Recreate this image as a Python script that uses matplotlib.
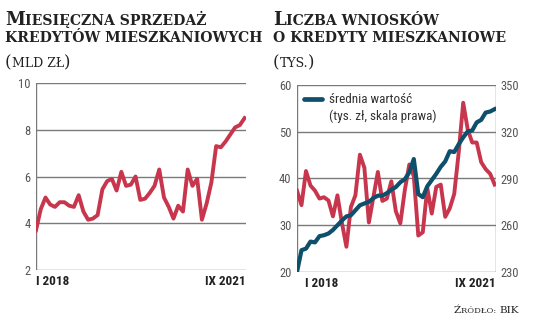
import matplotlib
matplotlib.use('Agg')
import matplotlib.pyplot as plt
from matplotlib import font_manager as fm

# ---------------- data ----------------
months = list(range(45))  # I 2018 .. IX 2021
sales = [3.7, 4.6, 5.1, 4.8, 4.7, 4.9, 4.9, 4.75, 4.7, 5.2,
         4.5, 4.15, 4.2, 4.35, 5.45, 5.8, 5.9, 5.4, 6.2, 5.6,
         5.65, 6.0, 5.0, 5.05, 5.3, 5.6, 6.3, 5.1, 4.7, 4.2,
         4.75, 4.5, 6.3, 5.6, 5.9, 4.15, 4.85, 5.75, 7.3, 7.25,
         7.5, 7.8, 8.1, 8.2, 8.5]
applications = [37.4, 34.3, 41.6, 38.5, 37.4, 35.7, 36.0, 35.3, 31.9, 36.4,
                30.5, 25.4, 33.9, 36.4, 45.1, 42.3, 30.6, 36.0, 41.4, 35.2,
                35.7, 39.4, 33.0, 30.4, 37.5, 43.0, 40.5, 27.8, 28.5, 38.0,
                32.5, 38.2, 38.7, 31.8, 33.6, 36.7, 45.6, 56.2, 50.5, 47.7,
                47.7, 43.5, 42.0, 41.0, 38.7]
avg_value = [230, 244, 245, 249.5, 249, 253, 253.6, 254.7, 257, 260,
             263, 265.7, 266.4, 269.6, 272.8, 274, 275, 277.4, 279, 279,
             280.6, 282.8, 284.5, 287.6, 289.5, 294, 302.5, 280, 278, 285,
             289, 293, 297.5, 301, 307.5, 307, 312, 316.4, 320.2, 320.8,
             326, 327.6, 332.3, 333, 334.5]
left_ticks = [2, 4, 6, 8, 10]
apps_ticks = [20, 30, 40, 50, 60]
value_ticks = [230, 260, 290, 320, 350]
x_labels = ["I 2018", "IX 2021"]
legend_lines = ["średnia wartość", "(tys. zł, skala prawa)"]

RED = "#c8364e"
BLUE = "#0e4f6b"
GRID = "#7a7a7a"
TICK = "#555555"
DARK = "#222222"
SERIF = "DejaVu Serif"

installed = {f.name for f in fm.fontManager.ttflist}
cands = ["Liberation Sans Narrow", "DejaVu Sans Condensed", "Roboto Condensed",
         "Roboto", "DejaVu Sans"]
NUM_FONT = [c for c in cands if c in installed] + ["DejaVu Sans"]
NUM_STRETCH = "condensed"

W, H = 536, 327
fig = plt.figure(figsize=(W / 100, H / 100), dpi=100)
fig.patch.set_facecolor("white")


def box(l, t, r, b):
    return [l / W, 1 - b / H, (r - l) / W, (b - t) / H]


def numtext(ax, x, y, s, **kw):
    return ax.text(x, y, s, family=NUM_FONT, fontstretch=NUM_STRETCH, **kw)


def style_labels(ax):
    for lab in ax.get_yticklabels():
        lab.set_family(NUM_FONT)
        lab.set_fontstretch(NUM_STRETCH)


def style_axis(ax, ticks, lim):
    ax.set_ylim(*lim)
    ax.set_yticks(ticks)
    ax.set_xlim(0, 44.3)
    ax.set_xticks([])
    for s in ax.spines.values():
        s.set_visible(False)
    for t in ticks:
        ax.axhline(t, color=GRID, lw=1.0, zorder=0)
    ax.tick_params(axis="y", length=0, pad=4, labelsize=9, labelcolor=TICK)
    style_labels(ax)


# ---------------- left chart ----------------
ax1 = fig.add_axes(box(36, 83, 246, 270))
style_axis(ax1, left_ticks, (2, 10))
ax1.axvline(0, color=GRID, lw=1.0)
ax1.plot(months, sales, color=RED, lw=2.8, solid_joinstyle="round", zorder=3)
numtext(ax1, 0, -0.025, x_labels[0], transform=ax1.transAxes, ha="left", va="top",
        fontsize=9.5, fontweight="bold", color=DARK)
numtext(ax1, 1, -0.025, x_labels[1], transform=ax1.transAxes, ha="right", va="top",
        fontsize=9.5, fontweight="bold", color=DARK)

# ---------------- right chart ----------------
ax2 = fig.add_axes(box(297, 85, 496, 272))
style_axis(ax2, apps_ticks, (20, 60))
ax2.axvline(0, color=GRID, lw=1.0)
ax2.axvline(44.3, color=GRID, lw=1.0)
ax2.plot(months, applications, color=RED, lw=2.8, solid_joinstyle="round", zorder=3)
ax3 = ax2.twinx()
ax3.set_ylim(230, 350)
ax3.set_yticks(value_ticks)
ax3.set_xlim(0, 44.3)
for s in ax3.spines.values():
    s.set_visible(False)
ax3.tick_params(axis="y", length=0, pad=3, labelsize=9, labelcolor=TICK)
style_labels(ax3)
ax3.plot(months, avg_value, color=BLUE, lw=3.0, solid_joinstyle="round", zorder=4)
numtext(ax2, 0.04, -0.025, x_labels[0], transform=ax2.transAxes, ha="left", va="top",
        fontsize=9.5, fontweight="bold", color=DARK)
numtext(ax2, 1, -0.025, x_labels[1], transform=ax2.transAxes, ha="right", va="top",
        fontsize=9.5, fontweight="bold", color=DARK)

# legend
ax3.plot([0.035, 0.125], [0.925, 0.925], transform=ax2.transAxes, color=BLUE,
         lw=3.4, solid_capstyle="round", clip_on=False)
numtext(ax2, 0.16, 0.925, legend_lines[0], transform=ax2.transAxes, ha="left",
        va="center", fontsize=9.5, color="#333333")
numtext(ax2, 0.16, 0.835, legend_lines[1], transform=ax2.transAxes, ha="left",
        va="center", fontsize=9.5, color="#333333")

# ---------------- titles (small caps) ----------------
renderer = fig.canvas.get_renderer()


def smallcaps(x_px, y_px, parts):
    x = x_px
    for s, size, weight in parts:
        t = fig.text(x / W, 1 - y_px / H, s, fontsize=size, fontweight=weight,
                     family=SERIF, va="baseline", ha="left", color=DARK)
        bb = t.get_window_extent(renderer=renderer)
        x += bb.width


BIG, SMALL = 13, 10.1
smallcaps(5, 25, [("M", BIG, "bold"), ("IESIĘCZNA SPRZEDAŻ", SMALL, "bold")])
smallcaps(5, 42, [("KREDYTÓW MIESZKANIOWYCH", SMALL, "bold")])
smallcaps(5, 67, [("(", 12, "normal"), ("MLD ZŁ", 9, "normal"), (")", 12, "normal")])

smallcaps(273, 25, [("L", BIG, "bold"), ("ICZBA WNIOSKÓW", SMALL, "bold")])
smallcaps(273, 42, [("O KREDYTY MIESZKANIOWE", SMALL, "bold")])
smallcaps(273, 67, [("(", 12, "normal"), ("TYS.", 9, "normal"), (")", 12, "normal")])

smallcaps(454, 313, [("Ź", 7.5, "normal"), ("RÓDŁO: ", 6.0, "normal"), ("BIK", 7.5, "normal")])

fig.savefig("out.png", dpi=100, facecolor="white")
